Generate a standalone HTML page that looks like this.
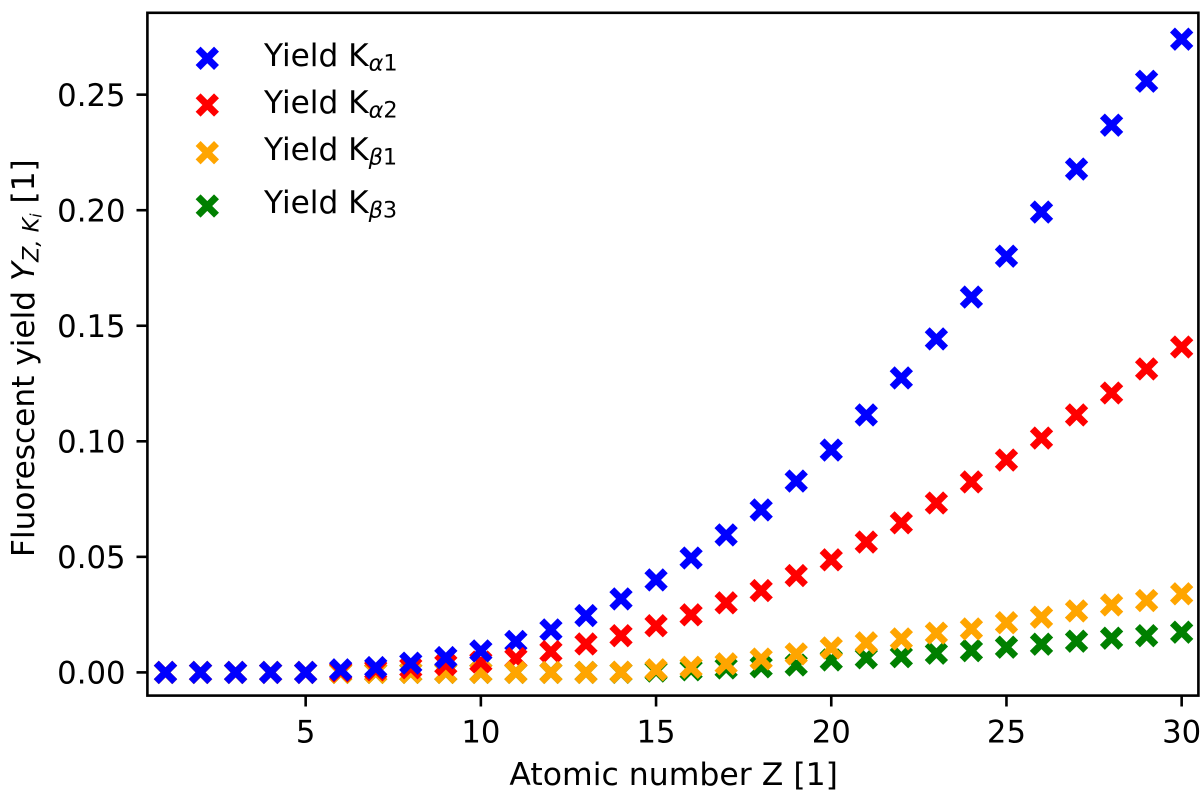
<!DOCTYPE html>
<html lang="en">
<head>
<meta charset="utf-8">
<title>Fluorescent yield chart</title>
<style>
html,body{margin:0;padding:0;background:#fff;width:1200px;height:796px;overflow:hidden}
svg{display:block;position:absolute;left:0;top:0}
text{font-family:"DejaVu Sans",sans-serif;fill:#000}
.t{font-size:31.2px}
.tick{font-size:30.7px}
.xl{font-size:31.5px}
.sub{font-size:22.4px;font-style:italic}
.subn{font-size:22.4px}
.subsub{font-size:15.6px;font-style:italic}
.it{font-style:italic}
</style>
</head>
<body>
<svg id="chart" xmlns="http://www.w3.org/2000/svg" width="1200" height="796" viewBox="0 0 1200 796">
  <defs><filter id="soft" x="0" y="0" width="100%" height="100%" filterUnits="objectBoundingBox"><feGaussianBlur stdDeviation="0.3"/></filter></defs>
  <rect x="0" y="0" width="1200" height="796" fill="#fff"/>
  <g filter="url(#soft)">
  <rect x="0" y="0" width="1200" height="796" fill="#fff"/>
  <g id="marks"></g>
  <rect x="147.4" y="12.8" width="1051" height="682.8" fill="none" stroke="#000" stroke-width="2.6"/>
  <g id="xticks"></g>
  <g id="yticks"></g>
  <text class="xl" x="673.7" y="785" text-anchor="middle">Atomic number Z [1]</text>
  <text class="t" transform="translate(34 557) rotate(-90)">Fluorescent yield <tspan class="it">Y</tspan><tspan class="sub" dy="4.7">Z, K</tspan><tspan class="subsub" dy="3">i</tspan><tspan dy="-7.7"> [1]</tspan></text>
  <g id="legend">
    <text class="t" x="264" y="66">Yield K<tspan class="sub" dy="4.7">α</tspan><tspan class="subn">1</tspan></text>
    <text class="t" x="264" y="113">Yield K<tspan class="sub" dy="4.7">α</tspan><tspan class="subn">2</tspan></text>
    <text class="t" x="264" y="160">Yield K<tspan class="sub" dy="4.7">β</tspan><tspan class="subn">1</tspan></text>
    <text class="t" x="264" y="213">Yield K<tspan class="sub" dy="4.7">β</tspan><tspan class="subn">3</tspan></text>
  </g>
  </g>
</svg>
<script>
const atomicNumbers = [1,2,3,4,5,6,7,8,9,10,11,12,13,14,15,16,17,18,19,20,21,22,23,24,25,26,27,28,29,30];
const yieldKa1 = [0,0,0,0,0,.0011,.0021,.0040,.0064,.0093,.0134,.0184,.0246,.0318,.0400,.0495,.0595,.0703,.0828,.0962,.1114,.1274,.1443,.1624,.1801,.1992,.2178,.2368,.2558,.2740];
const yieldKa2 = [0,0,0,0,0,.0006,.0011,.0020,.0034,.0045,.0060,.0090,.0123,.0159,.0202,.0249,.0301,.0354,.0419,.0487,.0564,.0647,.0733,.0824,.0919,.1014,.1114,.1209,.1313,.1408];
const yieldKb1 = [0,0,0,0,0,0,0,0,0,0,0,0,0,.0001,.0011,.0022,.0037,.0058,.0080,.0106,.0128,.0145,.0170,.0188,.0215,.0239,.0266,.0292,.0311,.0340];
const yieldKb3 = [0,0,0,0,0,0,0,0,0,0,0,0,0,0,.0006,.0011,.0019,.0024,.0032,.0054,.0063,.0068,.0083,.0094,.0109,.0122,.0135,.0148,.0159,.0174];
const xTickValues = [5,10,15,20,25,30];
const yTickValues = [0,0.05,0.10,0.15,0.20,0.25];
const yTickLabels = ["0.00","0.05","0.10","0.15","0.20","0.25"];
const colorKa1 = "#0000ff";
const colorKa2 = "#ff0000";
const colorKb1 = "#ffa500";
const colorKb3 = "#008000";

const NS = "http://www.w3.org/2000/svg";
function xScale(z){ return 165.5 + (z - 1) * 35.04; }
function yScale(v){ return 672.4 - v * 2311; }

function makeCross(cx, cy, color){
  const g = document.createElementNS(NS, "path");
  const a = 9.2;
  g.setAttribute("d", "M" + (cx-a) + " " + (cy-a) + "L" + (cx+a) + " " + (cy+a) + "M" + (cx-a) + " " + (cy+a) + "L" + (cx+a) + " " + (cy-a));
  g.setAttribute("stroke", color);
  g.setAttribute("stroke-width", "7");
  g.setAttribute("fill", "none");
  return g;
}

const marks = document.getElementById("marks");
const seriesBlue = {values: yieldKa1, color: colorKa1, name: "k-alpha-1"};
const seriesRed = {values: yieldKa2, color: colorKa2, name: "k-alpha-2"};
const seriesOrange = {values: yieldKb1, color: colorKb1, name: "k-beta-1"};
const seriesGreen = {values: yieldKb3, color: colorKb3, name: "k-beta-3"};
const lowOrder = [seriesGreen, seriesOrange, seriesRed, seriesBlue];
const highOrder = [seriesGreen, seriesBlue, seriesRed, seriesOrange];

atomicNumbers.forEach(function(z, i){
  const order = z <= 10 ? lowOrder : highOrder;
  order.forEach(function(s){
    const m = makeCross(xScale(z), yScale(s.values[i]), s.color);
    
    
    marks.appendChild(m);
  });
});

const xt = document.getElementById("xticks");
xTickValues.forEach(function(v){
  const l = document.createElementNS(NS, "line");
  
  
  l.setAttribute("x1", xScale(v)); l.setAttribute("x2", xScale(v));
  l.setAttribute("y1", 695.6); l.setAttribute("y2", 706.5);
  l.setAttribute("stroke", "#000"); l.setAttribute("stroke-width", "2.6");
  xt.appendChild(l);
  const t = document.createElementNS(NS, "text");
  
  
  t.setAttribute("class", "tick");
  t.setAttribute("x", xScale(v)); t.setAttribute("y", 742.5);
  t.setAttribute("text-anchor", "middle");
  t.textContent = String(v);
  xt.appendChild(t);
});

const yt = document.getElementById("yticks");
yTickValues.forEach(function(v, i){
  const l = document.createElementNS(NS, "line");
  
  
  l.setAttribute("x1", 136.5); l.setAttribute("x2", 147.4);
  l.setAttribute("y1", yScale(v)); l.setAttribute("y2", yScale(v));
  l.setAttribute("stroke", "#000"); l.setAttribute("stroke-width", "2.6");
  yt.appendChild(l);
  const t = document.createElementNS(NS, "text");
  
  
  t.setAttribute("class", "tick");
  t.setAttribute("x", 125.5); t.setAttribute("y", yScale(v) + 11.2);
  t.setAttribute("text-anchor", "end");
  t.textContent = yTickLabels[i];
  yt.appendChild(t);
});

const legendColors = [colorKa1, colorKa2, colorKb1, colorKb3];
const legendRows = [58.3, 105, 152.7, 206];
const legend = document.getElementById("legend");
legendColors.forEach(function(c, i){
  const m = makeCross(207.3, legendRows[i], c);
  
  
  legend.appendChild(m);
});
</script>
</body>
</html>
